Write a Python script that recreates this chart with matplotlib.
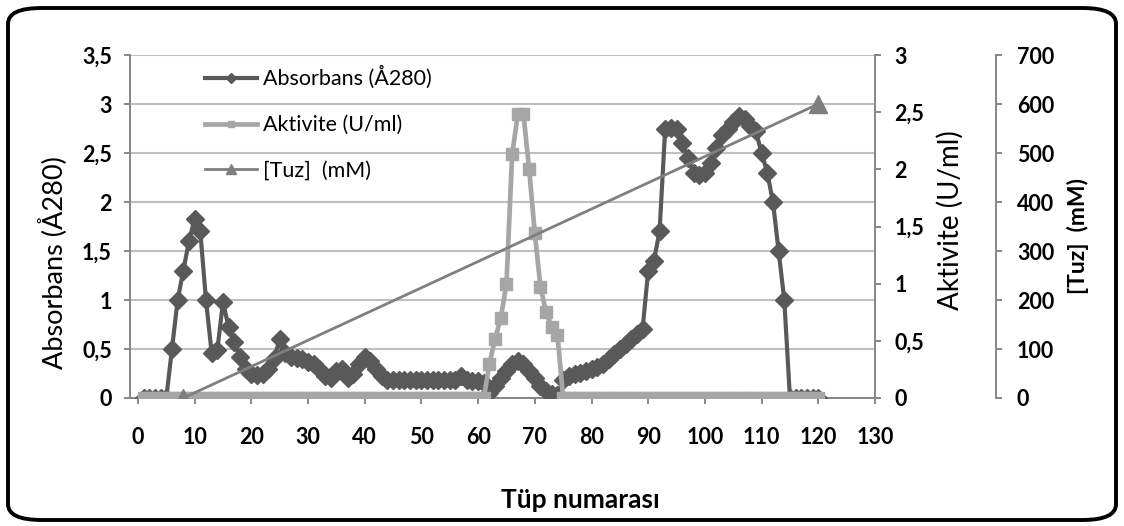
import matplotlib
matplotlib.use("Agg")
import matplotlib.pyplot as plt
from matplotlib.ticker import FuncFormatter, MultipleLocator
from matplotlib.patches import FancyBboxPatch

plt.rcParams['font.family'] = ['Lato', 'DejaVu Sans']
plt.rcParams['font.weight'] = 'bold'

# tube numbers 1..120
tubes = list(range(1, 121))

absorbans = [
    0, 0, 0, 0, 0, 0.5, 1.0, 1.3, 1.6, 1.83,           # 1-10
    1.7, 1.0, 0.46, 0.49, 0.98, 0.72, 0.57, 0.42, 0.3, 0.25,  # 11-20
    0.23, 0.25, 0.3, 0.4, 0.6, 0.46, 0.42, 0.41, 0.4, 0.37,   # 21-30
    0.35, 0.3, 0.22, 0.2, 0.28, 0.3, 0.2, 0.25, 0.35, 0.42,   # 31-40
    0.38, 0.3, 0.22, 0.18, 0.18, 0.18, 0.18, 0.18, 0.18, 0.18,  # 41-50
    0.18, 0.18, 0.18, 0.18, 0.18, 0.18, 0.22, 0.18, 0.17, 0.17,  # 51-60
    0.15, 0.05, 0.12, 0.2, 0.28, 0.35, 0.38, 0.35, 0.28, 0.2,   # 61-70
    0.12, 0.07, 0.04, 0.03, 0.18, 0.22, 0.24, 0.26, 0.28, 0.3,  # 71-80
    0.32, 0.35, 0.4, 0.45, 0.5, 0.55, 0.6, 0.65, 0.7, 1.3,      # 81-90
    1.4, 1.7, 2.75, 2.76, 2.75, 2.6, 2.45, 2.3, 2.28, 2.3,      # 91-100
    2.4, 2.55, 2.68, 2.75, 2.82, 2.88, 2.85, 2.78, 2.72, 2.5,   # 101-110
    2.3, 2.0, 1.5, 1.0, 0, 0, 0, 0, 0, 0,                       # 111-120
]

aktivite = [0] * 61 + [
    0.3, 0.52, 0.7, 1.0, 2.13, 2.48, 2.48, 2.0, 1.44, 0.97,    # 62-71
    0.75, 0.62, 0.55,                                          # 72-74
] + [0] * 46

tuz_x = [8, 120]
tuz_mM = [0, 600]

dark = '#595959'
light = '#a6a6a6'
mid = '#7f7f7f'
axis_gray = '#868686'

def comma(v, pos):
    s = ('%g' % v)
    return s.replace('.', ',')

fig = plt.figure(figsize=(11.24, 5.26), dpi=100)
ax = fig.add_axes([130 / 1124, 1 - 398 / 526, 745 / 1124, 343 / 526])
ax2 = ax.twinx()
ax3 = ax.twinx()

ax.plot(tubes, absorbans, color=dark, lw=3, marker='D', ms=9,
        label='Absorbans (Å280)', zorder=3)
ax2.plot(tubes, aktivite, color=light, lw=3.4, marker='s', ms=8.5,
         label='Aktivite (U/ml)', zorder=3)
ax3.plot(tuz_x, tuz_mM, color=mid, lw=2, marker='^', ms=13,
         label='[Tuz]  (mM)', zorder=4)

ax.set_xlim(-1.4, 130)
ax.set_ylim(0, 3.5)
ax2.set_ylim(0, 3)
ax3.set_ylim(0, 700)
ax.xaxis.set_major_locator(MultipleLocator(10))
ax.yaxis.set_major_locator(MultipleLocator(0.5))
ax2.yaxis.set_major_locator(MultipleLocator(0.5))
ax3.yaxis.set_major_locator(MultipleLocator(100))
for a in (ax, ax2):
    a.yaxis.set_major_formatter(FuncFormatter(comma))

ax.grid(axis='y', color='#bfbfbf', lw=1.5)
ax.set_axisbelow(True)

ax3.spines['right'].set_position(('axes', 866 / 745))
for a in (ax, ax2, ax3):
    for sp in a.spines.values():
        sp.set_visible(False)
ax.spines['left'].set_visible(True)
ax.spines['bottom'].set_visible(True)
ax2.spines['right'].set_visible(True)
ax3.spines['right'].set_visible(True)
for a in (ax, ax2, ax3):
    for sp in a.spines.values():
        sp.set_color(axis_gray)
        sp.set_linewidth(1.4)
    a.tick_params(colors=axis_gray, labelcolor='black', width=1.4, length=4,
                  labelsize=15.5)
ax.tick_params(axis='y', pad=9)
ax.tick_params(axis='x', pad=17)
ax2.tick_params(axis='y', pad=10)
ax3.tick_params(axis='y', pad=11)

ax.set_xlabel('Tüp numarası', fontsize=19, fontweight='bold')
ax.xaxis.set_label_coords((580 - 130) / 745, -(500 - 398) / 343)
ax.set_ylabel('Absorbans (Å280)', fontsize=19.5, fontweight='normal')
ax.yaxis.set_label_coords((53 - 130) / 745, (398 - 263) / 343)
ax2.set_ylabel('Aktivite (U/ml)', fontsize=20, fontweight='normal')
ax2.yaxis.set_label_coords((950 - 130) / 745, (398 - 220) / 343)
ax3.set_ylabel('[Tuz]  (mM)', fontsize=16.5, fontweight='bold')
ax3.yaxis.set_label_coords((1078 - 130) / 745, (398 - 236) / 343)
for lab in (ax.xaxis.label, ax.yaxis.label, ax2.yaxis.label, ax3.yaxis.label):
    lab.set_va('center')

handles = []
labels = []
for a in (ax, ax2, ax3):
    h, l = a.get_legend_handles_labels()
    handles += h
    labels += l
fig.legend(handles, labels, loc='upper left',
           bbox_to_anchor=(205 / 1124, 1 - 66 / 526), frameon=False,
           prop={'size': 15.5, 'weight': 'normal'}, handlelength=2.4,
           handletextpad=0.3, labelspacing=1.2, borderpad=0,
           borderaxespad=0, markerscale=0.55)

fig.patches.append(FancyBboxPatch((8 / 1124, 6 / 526), 1108 / 1124, 512 / 526,
                                  boxstyle='round,pad=0,rounding_size=0.03',
                                  transform=fig.transFigure, fill=False,
                                  ec='black', lw=2.8))

fig.savefig('out.png', dpi=100)
